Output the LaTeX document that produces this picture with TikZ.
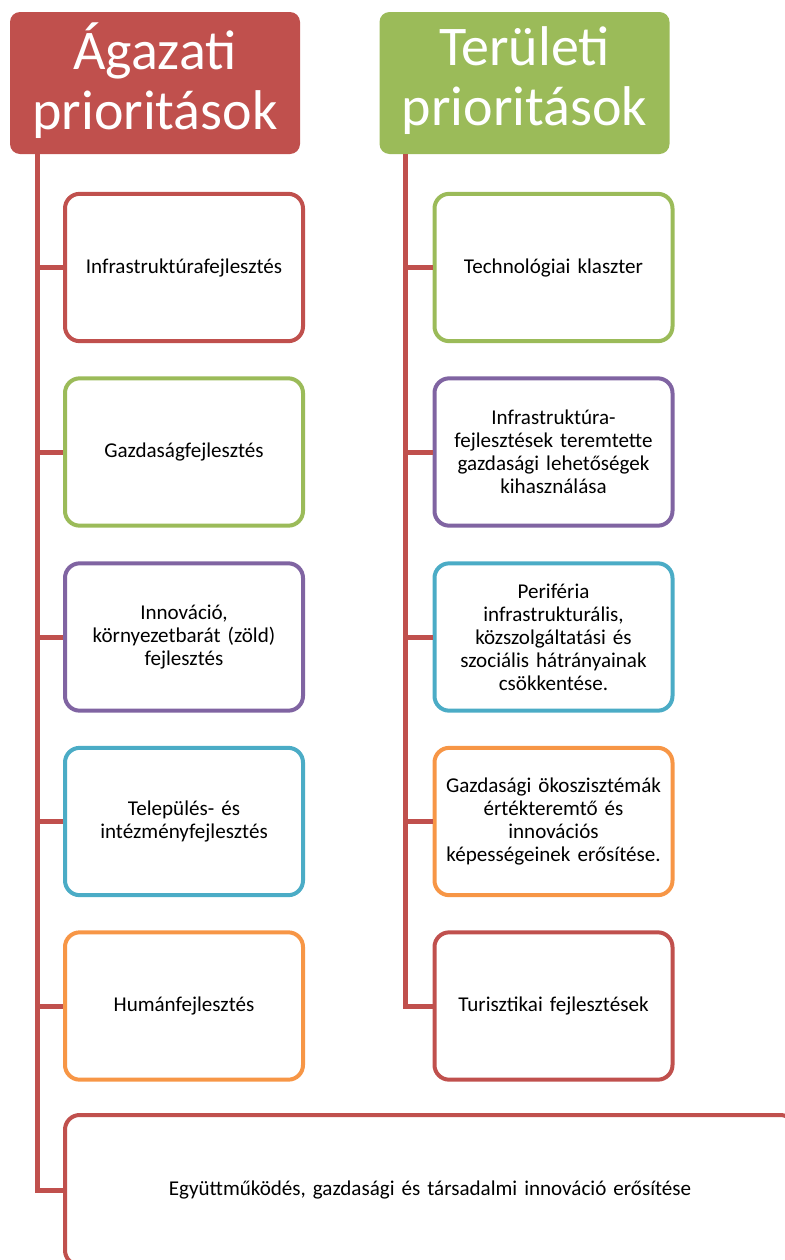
\documentclass[tikz,border=0pt]{standalone}
\usepackage{fontspec}
\setmainfont{Carlito}
\definecolor{offred}{HTML}{C0504D}
\definecolor{offgreen}{HTML}{9BBB59}
\definecolor{offpurple}{HTML}{8064A2}
\definecolor{offblue}{HTML}{4BACC6}
\definecolor{offorange}{HTML}{F79646}
\tikzset{
  headbox/.style={rounded corners=7.5pt, minimum width=217.5pt, minimum height=106.5pt,
    text=white, align=center, font=\fontsize{42}{45}\selectfont, inner sep=0pt,
    text depth=11pt},
  itembox/.style={draw, line width=3pt, rounded corners=11pt, fill=white,
    minimum width=178.5pt, minimum height=110.5pt, text width=170pt, align=center,
    font=\fontsize{15.8}{17.3}\selectfont, inner sep=0pt},
  trunk/.style={offred, line width=3.75pt},
}
\begin{document}
\begin{tikzpicture}[x=0.75pt, y=-0.75pt]
\useasboundingbox (0,0) rectangle (785,1260);
\clip (0,0) rectangle (785,1260);
% headers
\node[headbox, fill=offred] (aghead) at (155,83) {Ágazati\\prioritások};
\node[headbox, fill=offgreen] (terhead) at (524.5,83) {Területi\\prioritások};
\coordinate (agtop) at (37,154);
\coordinate (tertop) at (405.5,154);
% sectoral priorities
\node[itembox, draw=offred] (ag1) at (184,267.5) {Infrastruktúrafejlesztés};
\node[itembox, draw=offgreen] (ag2) at (184,452) {Gazdaságfejlesztés};
\node[itembox, draw=offpurple] (ag3) at (184,637) {Innováció,\\környezetbarát (zöld)\\fejlesztés};
\node[itembox, draw=offblue] (ag4) at (184,821.5) {Település- és\\intézményfejlesztés};
\node[itembox, draw=offorange] (ag5) at (184,1006) {Humánfejlesztés};
\node[itembox, draw=offred, minimum width=547.5pt, minimum height=112.5pt, text width=530pt] (ag6) at (430,1190) {Együttműködés, gazdasági és társadalmi innováció erősítése};
% territorial priorities
\node[itembox, draw=offgreen] (ter1) at (553.5,267.5) {Technológiai klaszter};
\node[itembox, draw=offpurple] (ter2) at (553.5,452) {Infrastruktúra-\\fejlesztések teremtette\\gazdasági lehetőségek\\kihasználása};
\node[itembox, draw=offblue] (ter3) at (553.5,637) {Periféria\\infrastrukturális,\\közszolgáltatási és\\szociális hátrányainak\\csökkentése.};
\node[itembox, draw=offorange] (ter4) at (553.5,821.5) {Gazdasági ökoszisztémák\\értékteremtő és\\innovációs\\képességeinek erősítése.};
\node[itembox, draw=offred] (ter5) at (553.5,1006) {Turisztikai fejlesztések};
% connectors
\draw[trunk] (agtop) |- (ag6.west);
\draw[trunk] (agtop |- ag1.west) -- (ag1.west);
\draw[trunk] (agtop |- ag2.west) -- (ag2.west);
\draw[trunk] (agtop |- ag3.west) -- (ag3.west);
\draw[trunk] (agtop |- ag4.west) -- (ag4.west);
\draw[trunk] (agtop |- ag5.west) -- (ag5.west);
\draw[trunk] (tertop) |- (ter5.west);
\draw[trunk] (tertop |- ter1.west) -- (ter1.west);
\draw[trunk] (tertop |- ter2.west) -- (ter2.west);
\draw[trunk] (tertop |- ter3.west) -- (ter3.west);
\draw[trunk] (tertop |- ter4.west) -- (ter4.west);
\end{tikzpicture}
\end{document}
